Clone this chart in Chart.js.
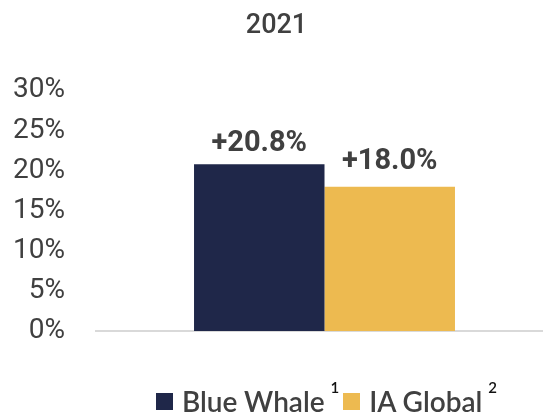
<!DOCTYPE html>
<html>
<head>
<meta charset="utf-8">
<script src="https://cdn.jsdelivr.net/npm/chart.js@4"></script>
<style>
  html, body { margin: 0; padding: 0; background: #fff; overflow: hidden; }
  #wrap { position: relative; width: 543px; height: 418px; overflow: hidden; }
  #legend {
    position: absolute; left: 156px; top: 384px;
    display: flex; align-items: center;
    font-family: Lato, sans-serif; font-size: 28px; font-weight: 600; color: #404040;
    white-space: nowrap;
  }
  #legend .box { width: 17px; height: 17px; margin-right: 9px; }
  #legend .item { display: flex; align-items: center; }
  #legend sup { font-size: 15px; color: #111; position: relative; top: -14px; margin-left: 6px; margin-right: 4px; }
</style>
</head>
<body>
<div id="wrap">
  <canvas id="chart" width="553" height="418"></canvas>
  <div id="legend"></div>
</div>
<script>
const title = "2021";
const categories = ["2021"];
const seriesNames = ["Blue Whale", "IA Global"];
const seriesNotes = ["1", "2"];
const seriesColors = ["#1f2749", "#edba50"];
const blueWhale = [20.8];
const iaGlobal = [18.0];
const yTicks = [0, 5, 10, 15, 20, 25, 30];

const textColor = "#404040";

// labels above each bar, like "+20.8%"
const barLabels = {
  id: "barLabels",
  afterDatasetsDraw: (chart) => {
    const ctx = chart.ctx;
    ctx.save();
    ctx.font = "bold 29px Roboto";
    ctx.fillStyle = textColor;
    ctx.textAlign = "center";
    ctx.textBaseline = "alphabetic";
    chart.data.datasets.forEach((ds, i) => {
      chart.getDatasetMeta(i).data.forEach((bar, j) => {
        const v = ds.data[j];
        ctx.fillText("+" + v.toFixed(1) + "%", bar.x, bar.y - ds.labelOffset);
      });
    });
    ctx.restore();
  },
};

const buildLegend = () => {
  const legend = document.getElementById("legend");
  legend.innerHTML = seriesNames
    .map(
      (name, i) => `
      <div class="item">
        <span class="box" style="background:${seriesColors[i]}"></span>
        <span>${name}</span><sup>${seriesNotes[i]}</sup>
      </div>`
    )
    .join("");
};

const createChart = () => {
  const ctx = document.getElementById("chart").getContext("2d");
  new Chart(ctx, {
    type: "bar",
    data: {
      labels: categories,
      datasets: [
        {
          label: seriesNames[0],
          data: blueWhale,
          backgroundColor: seriesColors[0],
          labelOffset: 13,
        },
        {
          label: seriesNames[1],
          data: iaGlobal,
          backgroundColor: seriesColors[1],
          labelOffset: 18,
        },
      ],
    },
    options: {
      responsive: false,
      animation: false,
      categoryPercentage: 0.571,
      barPercentage: 1,
      layout: {
        padding: { left: 0, right: 0, top: 0, bottom: 79 },
      },
      plugins: {
        legend: { display: false },
        tooltip: { enabled: false },
        title: {
          display: true,
          text: title,
          color: textColor,
          font: { family: "Roboto", size: 27, weight: "500" },
          padding: { top: 10, bottom: 48 },
        },
      },
      scales: {
        x: {
          grid: { display: false },
          ticks: { display: false },
          border: { display: true, color: "#d9d9d9", width: 2 },
        },
        y: {
          min: yTicks[0],
          max: yTicks[yTicks.length - 1],
          afterBuildTicks: (scale) => {
            scale.ticks = yTicks.map((v) => ({ value: v }));
          },
          afterFit: (scale) => {
            scale.width = 96;
          },
          grid: { display: false, drawTicks: false },
          border: { display: false },
          ticks: {
            padding: 31,
            color: textColor,
            font: { family: "Roboto", size: 28 },
            callback: (value) => value + "%",
          },
        },
      },
    },
    plugins: [barLabels],
  });
};

document.addEventListener("DOMContentLoaded", () => {
  createChart();
  buildLegend();
});
</script>
</body>
</html>
